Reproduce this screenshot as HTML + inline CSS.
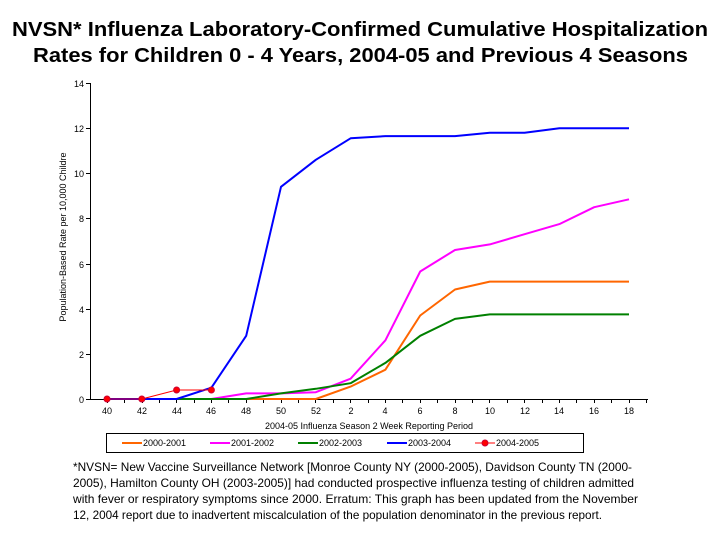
<!DOCTYPE html>
<html><head><meta charset="utf-8"><style>
html,body{margin:0;padding:0;background:#fff;}
svg{display:block;font-family:"Liberation Sans",Arial,sans-serif;}
</style></head><body>
<svg width="720" height="540" viewBox="0 0 720 540">
<rect width="720" height="540" fill="#fff"/>
<text x="12" y="36" font-size="20.5" font-weight="bold" textLength="696" lengthAdjust="spacingAndGlyphs">NVSN* Influenza Laboratory-Confirmed Cumulative Hospitalization</text>
<text x="33" y="62" font-size="20.5" font-weight="bold" textLength="655" lengthAdjust="spacingAndGlyphs">Rates for Children 0 - 4 Years, 2004-05 and Previous 4 Seasons</text>
<g stroke="#000" stroke-width="1" fill="none">
<polyline points="90.5,83 90.5,399.5 648,399.5"/>
<line x1="86" y1="83.5" x2="90" y2="83.5"/>
<line x1="86" y1="128.5" x2="90" y2="128.5"/>
<line x1="86" y1="173.5" x2="90" y2="173.5"/>
<line x1="86" y1="218.5" x2="90" y2="218.5"/>
<line x1="86" y1="264.5" x2="90" y2="264.5"/>
<line x1="86" y1="309.5" x2="90" y2="309.5"/>
<line x1="86" y1="354.5" x2="90" y2="354.5"/>
<line x1="86" y1="399.5" x2="90" y2="399.5"/>
</g>
<g font-size="9" text-anchor="end">
<text x="84" y="87">14</text><text x="84" y="132">12</text><text x="84" y="177">10</text>
<text x="84" y="222">8</text><text x="84" y="268">6</text><text x="84" y="313">4</text>
<text x="84" y="358">2</text><text x="84" y="403">0</text>
</g>
<text transform="translate(66,237) rotate(-90)" font-size="9" text-anchor="middle">Population-Based Rate per 10,000 Childre</text>
<g font-size="9" text-anchor="middle">
<text x="107" y="414">40</text><text x="142" y="414">42</text><text x="177" y="414">44</text><text x="211" y="414">46</text>
<text x="246" y="414">48</text><text x="281" y="414">50</text><text x="316" y="414">52</text><text x="351" y="414">2</text>
<text x="385" y="414">4</text><text x="420" y="414">6</text><text x="455" y="414">8</text><text x="490" y="414">10</text>
<text x="525" y="414">12</text><text x="559" y="414">14</text><text x="594" y="414">16</text><text x="629" y="414">18</text>
<text x="369" y="429">2004-05 Influenza Season 2 Week Reporting Period</text>
</g>
<g stroke="#000" stroke-width="1">
<path d="M107.5 399v4M124.5 399v4M142.5 399v4M159.5 399v4M176.5 399v4M194.5 399v4M211.5 399v4M228.5 399v4M246.5 399v4M263.5 399v4M281.5 399v4M298.5 399v4M315.5 399v4M333.5 399v4M350.5 399v4M368.5 399v4M385.5 399v4M402.5 399v4M420.5 399v4M437.5 399v4M455.5 399v4M472.5 399v4M489.5 399v4M507.5 399v4M524.5 399v4M542.5 399v4M559.5 399v4M576.5 399v4M594.5 399v4M611.5 399v4M629.5 399v4M646.5 399v4"/>
</g>
<g fill="none" stroke-width="2" stroke-linejoin="round">
<polyline stroke="#ff6600" points="246.2,399 281,399 315.8,399 350.6,386.6 385.4,369.7 420.2,315.5 455,289.5 489.8,281.6 524.6,281.6 559.4,281.6 594.2,281.6 629,281.6"/>
<polyline stroke="#ff00ff" points="211.4,399 246.2,393.4 281,393.4 315.8,392.2 350.6,378.7 385.4,340.3 420.2,271.5 455,250 489.8,244.4 524.6,234.2 559.4,224.1 594.2,207.2 629,199.3"/>
<polyline stroke="#008000" points="176.6,399 246.2,399 281,393.4 315.8,388.8 350.6,383.2 385.4,362.9 420.2,335.8 455,318.9 489.8,314.4 524.6,314.4 559.4,314.4 594.2,314.4 629,314.4"/>
<polyline stroke="#0000ff" points="107,399 141.8,399 176.6,399 211.4,387.7 246.2,335.8 281,186.8 315.8,159.8 350.6,138.3 385.4,136.1 420.2,136.1 455,136.1 489.8,132.7 524.6,132.7 559.4,128.2 594.2,128.2 629,128.2"/>
<polyline stroke="#ff0000" stroke-width="1" points="107,399 141.8,399 176.6,390 211.4,390"/>
</g>
<g fill="#ff0000" stroke="#cc0033" stroke-width="1">
<circle cx="107" cy="399" r="3"/><circle cx="141.8" cy="399" r="3"/><circle cx="176.6" cy="390" r="3"/><circle cx="211.4" cy="390" r="3"/>
</g>
<rect x="106.5" y="433.5" width="477" height="19" fill="#fff" stroke="#000"/>
<g stroke-width="2">
<line x1="122" y1="443" x2="142" y2="443" stroke="#ff6600"/>
<line x1="210" y1="443" x2="230" y2="443" stroke="#ff00ff"/>
<line x1="298" y1="443" x2="318" y2="443" stroke="#008000"/>
<line x1="387" y1="443" x2="407" y2="443" stroke="#0000ff"/>
<line x1="475" y1="443" x2="495" y2="443" stroke="#ff0000" stroke-width="1"/>
</g>
<circle cx="485" cy="443" r="3" fill="#ff0000" stroke="#cc0033"/>
<g font-size="9">
<text x="143" y="446">2000-2001</text><text x="231" y="446">2001-2002</text>
<text x="319" y="446">2002-2003</text><text x="408" y="446">2003-2004</text><text x="496" y="446">2004-2005</text>
</g>
<g font-size="12">
<text x="73" y="471" textLength="559" lengthAdjust="spacingAndGlyphs">*NVSN= New Vaccine Surveillance Network [Monroe County NY (2000-2005), Davidson County TN (2000-</text>
<text x="73" y="487" textLength="561" lengthAdjust="spacingAndGlyphs">2005), Hamilton County OH (2003-2005)] had conducted prospective influenza testing of children admitted</text>
<text x="73" y="503" textLength="565" lengthAdjust="spacingAndGlyphs">with fever or respiratory symptoms since 2000. Erratum:  This graph has been updated from the  November</text>
<text x="73" y="519" textLength="529" lengthAdjust="spacingAndGlyphs">12, 2004 report due to inadvertent miscalculation of the population denominator in the previous report.</text>
</g>
</svg>
</body></html>
